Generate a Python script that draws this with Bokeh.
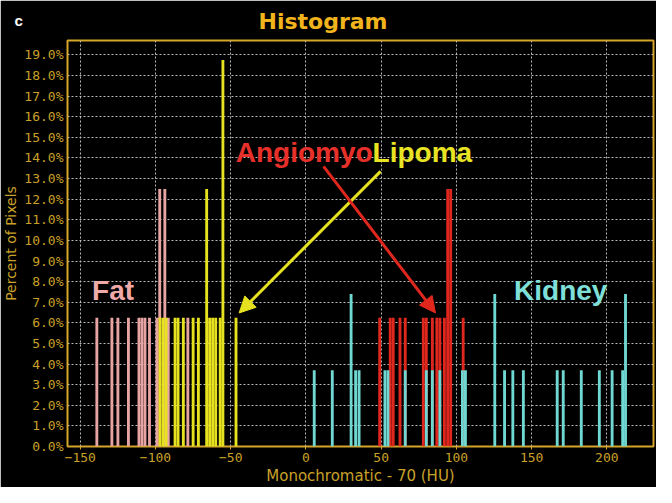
from bokeh.plotting import figure
from bokeh.models import (Arrow, NormalHead, Label, Title, FixedTicker,
                          NumeralTickFormatter, Range1d, ColumnDataSource)
from bokeh.embed import file_html
from bokeh.resources import INLINE

# ---- data (HU bin centre, fraction of pixels) ----
fat_hu = [-139, -129, -125, -118, -111, -109, -107, -104, -99, -97.2, -93.8, -91.5, -78.5]
fat_pct = [0.0625, 0.0625, 0.0625, 0.0625, 0.0625, 0.0625, 0.0625, 0.0625,
           0.0625, 0.125, 0.125, 0.0625, 0.0625]

lipoma_hu = [-97, -95, -93, -87, -85, -81.5, -75, -71.5, -66, -64, -62, -60, -57, -55.2, -46.5]
lipoma_pct = [0.0625, 0.0625, 0.0625, 0.0625, 0.0625, 0.0625, 0.0625, 0.0625,
              0.125, 0.0625, 0.0625, 0.0625, 0.0625, 0.1875, 0.0625]

aml_hu = [49, 56, 58, 62.5, 66, 78, 80, 84, 87, 89, 92, 94.2, 96.2, 104.5]
aml_pct = [0.0625, 0.0625, 0.0625, 0.0625, 0.0625, 0.0625, 0.0625, 0.0625,
           0.0625, 0.0625, 0.0625, 0.125, 0.125, 0.0625]

kidney_hu = [5.5, 17.5, 30, 33, 35.3, 52.5, 54.5, 66, 80, 84, 89, 104, 106,
             125.5, 132, 137.5, 144.5, 167, 171, 183, 195, 203.5, 210.5, 212.4]
kidney_pct = [0.037, 0.037, 0.074, 0.037, 0.037, 0.037, 0.037, 0.037, 0.037,
              0.037, 0.037, 0.037, 0.037, 0.074, 0.037, 0.037, 0.037, 0.037,
              0.037, 0.037, 0.037, 0.037, 0.037, 0.074]

x_ticks = [-150, -100, -50, 0, 50, 100, 150, 200]
y_ticks = [i / 100 for i in range(0, 20)]

GOLD = "#d4a62a"
LABEL = "#c9a128"
PINK = "#e8a3a3"
YELLOW = "#e6e21f"
RED = "#e0271d"
CYAN = "#6fd8d2"

p = figure(width=656, height=487, output_backend="svg", toolbar_location=None,
           x_range=Range1d(-158.5, 231), y_range=Range1d(0, 0.197),
           min_border_left=64, min_border_right=3, min_border_top=40,
           min_border_bottom=39,
           background_fill_color="black", border_fill_color="black")

p.add_layout(Title(text="Histogram", align="left", offset=191, standoff=13,
                   text_font="DejaVu Sans", text_font_style="bold",
                   text_font_size="22px", text_color="#f2b41c"), "above")
# panel letter "c": outermost title with a negative standoff so that it
# takes no room and sits beside the main title
p.add_layout(Title(text="c", align="left", offset=-53, standoff=-56,
                   text_font="Liberation Sans", text_font_style="bold",
                   text_font_size="15px", text_color="white"), "above")

p.outline_line_color = GOLD
p.outline_line_width = 2

for ax in (p.xaxis[0], p.yaxis[0]):
    ax.axis_line_color = None
    ax.major_tick_line_color = GOLD
    ax.minor_tick_line_color = None
    ax.major_label_text_font = "DejaVu Sans Mono"
    ax.major_label_text_font_size = "13px"
    ax.major_label_text_color = LABEL
    ax.axis_label_text_font = "DejaVu Sans"
    ax.axis_label_text_font_style = "normal"
    ax.axis_label_text_color = LABEL

p.xaxis.ticker = FixedTicker(ticks=x_ticks)
p.xaxis.major_tick_in = 0
p.xaxis.major_tick_out = 3
p.xaxis.major_label_standoff = 3
p.xaxis.axis_label = "Monochromatic - 70 (HU)"
p.xaxis.axis_label_text_font_size = "15px"
p.xaxis.axis_label_standoff = 2

p.yaxis.ticker = FixedTicker(ticks=y_ticks)
p.yaxis.formatter = NumeralTickFormatter(format="0.0%")
p.yaxis.major_tick_in = 0
p.yaxis.major_tick_out = 0
p.yaxis.major_label_standoff = 4
p.yaxis.axis_label = "Percent of Pixels"
p.yaxis.axis_label_text_font_size = "14px"
p.yaxis.axis_label_standoff = 2

p.xgrid.ticker = FixedTicker(ticks=x_ticks)
p.ygrid.ticker = FixedTicker(ticks=y_ticks)
for g in (p.xgrid[0], p.ygrid[0]):
    g.grid_line_color = "#b8b8b8"
    g.grid_line_dash = "2 2"
    g.grid_line_width = 1

W = 1.9
for hu, pct, col in ((fat_hu, fat_pct, PINK), (lipoma_hu, lipoma_pct, YELLOW),
                     (aml_hu, aml_pct, RED), (kidney_hu, kidney_pct, CYAN)):
    src = ColumnDataSource(dict(x=hu, top=pct))
    p.vbar(x="x", top="top", bottom=0, width=W, source=src,
           fill_color=col, line_color=None)

# arrows
p.add_layout(Arrow(end=NormalHead(size=16, fill_color=YELLOW, line_color=YELLOW),
                   x_start=49.6, y_start=0.1335, x_end=-44.4, y_end=0.0648,
                   line_color=YELLOW, line_width=3))
p.add_layout(Arrow(end=NormalHead(size=16, fill_color=RED, line_color=RED),
                   x_start=11.7, y_start=0.1359, x_end=86.1, y_end=0.0648,
                   line_color=RED, line_width=3))

def lab(x, y, t, c, align="left", size="28px"):
    p.add_layout(Label(x=x, y=y, text=t, text_color=c, text_align=align,
                       text_baseline="alphabetic", text_font="Liberation Sans",
                       text_font_style="bold", text_font_size=size))

lab(-142.2, 0.0755, "Fat", "#f0a9a9")
lab(44.3, 0.1425, "Angiomyo", "#e8302a", align="right")
lab(44.3, 0.1425, "Lipoma", "#e8e424")
lab(138.3, 0.0755, "Kidney", "#7fe0da")

open("out.html", "w").write(file_html(p, INLINE))
